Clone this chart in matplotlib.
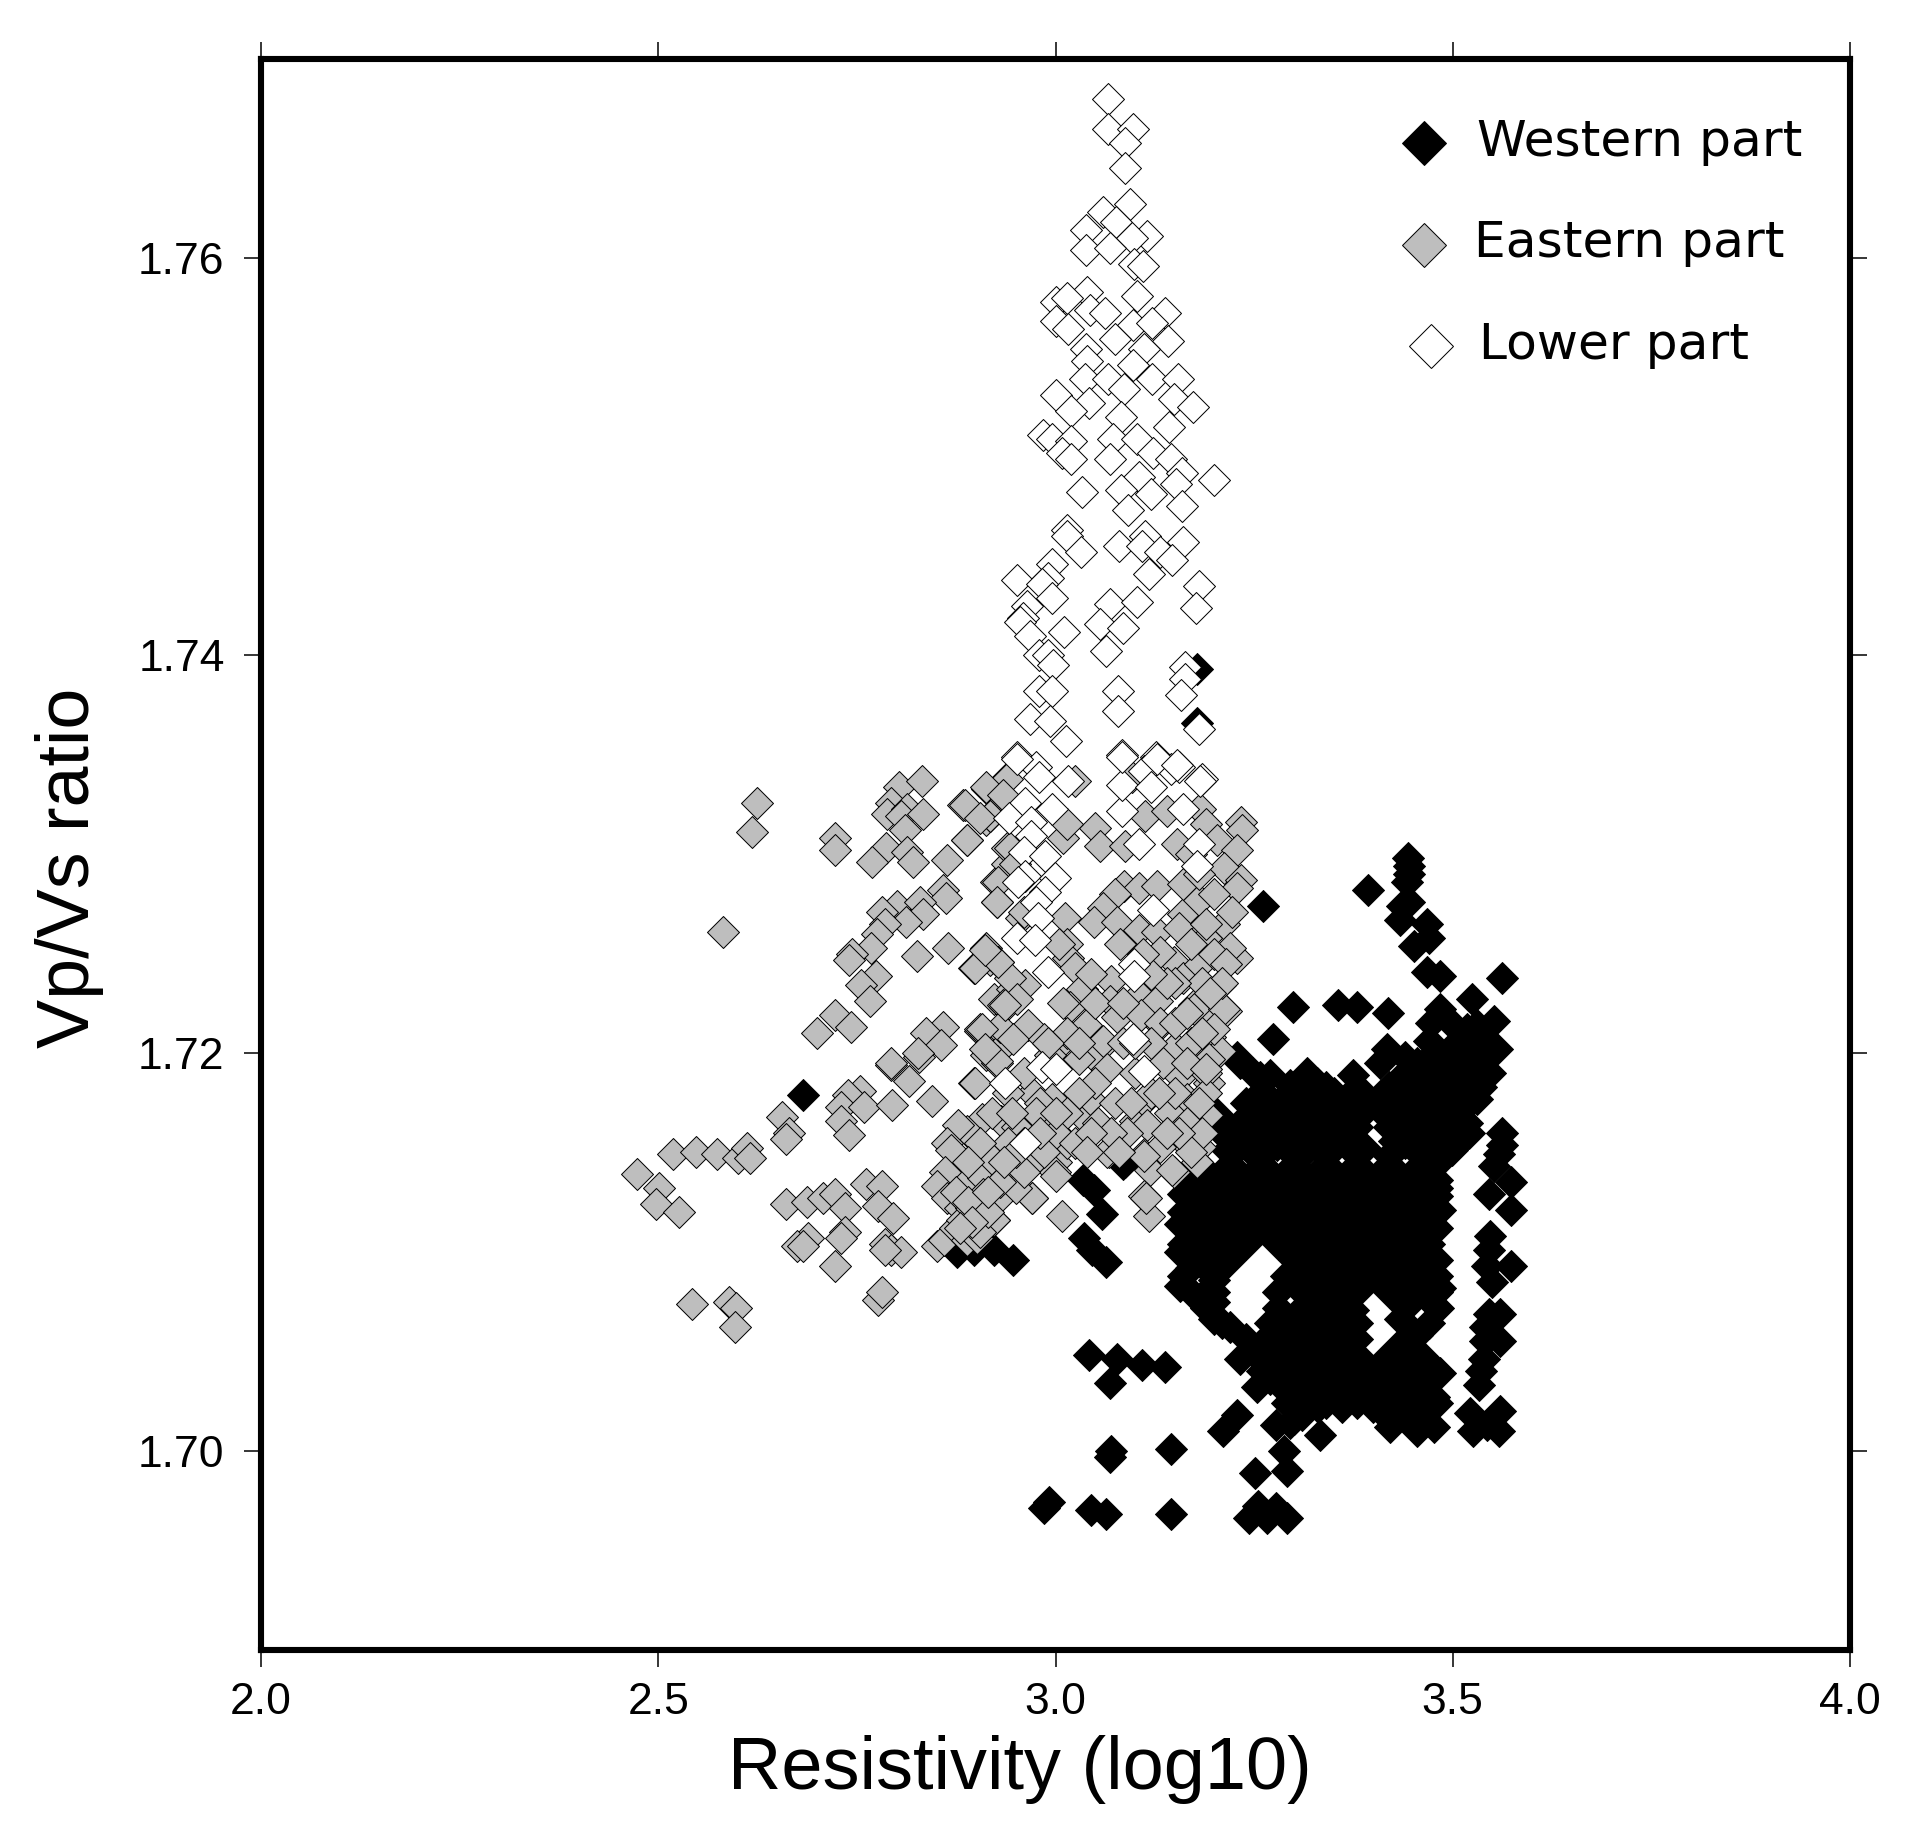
"""
Vp/Vs ratio against log10 resistivity for the three parts of the model.
"""
import matplotlib
matplotlib.use("Agg")
import matplotlib.pyplot as plt
import numpy as np

# (resistivity log10, Vp/Vs)
western_part = [
    (3.178, 1.7393), (3.178, 1.7366), (2.682, 1.7179),
    (3.444, 1.7298), (3.445, 1.7294), (3.445, 1.7290), (3.442, 1.7286), (3.436, 1.7274),
    (3.445, 1.7276), (3.434, 1.7267), (3.468, 1.7265), (3.470, 1.7258), (3.451, 1.7254),
    (3.468, 1.7241), (3.484, 1.7239), (3.393, 1.7282), (3.261, 1.7274), (3.562, 1.7238),
    (3.299, 1.7223), (3.356, 1.7224), (3.379, 1.7223), (3.418, 1.7220), (3.274, 1.7207),
    (3.524, 1.7227), (3.484, 1.7222), (3.552, 1.7216), (3.472, 1.7215), (3.556, 1.7202),
    (3.518, 1.7212), (3.497, 1.7202), (3.535, 1.7195), (3.547, 1.7190), (3.535, 1.7183),
    (3.510, 1.7193), (3.476, 1.7200), (3.455, 1.7195), (3.417, 1.7202), (3.409, 1.7195),
    (3.375, 1.7189), (3.316, 1.7190), (3.295, 1.7184), (3.329, 1.7185), (3.232, 1.7195),
    (3.258, 1.7188), (3.239, 1.7166), (3.274, 1.7173), (3.312, 1.7178), (3.350, 1.7180),
    (3.388, 1.7175), (3.426, 1.7171), (3.459, 1.7173), (3.493, 1.7190), (3.518, 1.7165),
    (3.499, 1.7151), (3.216, 1.7151), (3.245, 1.7151), (3.279, 1.7154), (3.316, 1.7151),
    (3.350, 1.7158), (3.384, 1.7151), (3.426, 1.7156), (3.459, 1.7158), (3.476, 1.7146),
    (3.161, 1.7129), (3.195, 1.7129), (3.228, 1.7132), (3.266, 1.7134), (3.304, 1.7136),
    (3.342, 1.7134), (3.379, 1.7136), (3.417, 1.7136), (3.455, 1.7136), (3.480, 1.7132),
    (3.157, 1.7114), (3.190, 1.7114), (3.224, 1.7114), (3.262, 1.7117), (3.300, 1.7119),
    (3.337, 1.7119), (3.375, 1.7117), (3.413, 1.7117), (3.451, 1.7122), (3.484, 1.7121),
    (3.157, 1.7100), (3.186, 1.7107), (3.157, 1.7083), (3.182, 1.7077), (3.199, 1.7086),
    (3.199, 1.7066), (3.241, 1.7110), (3.300, 1.7105), (3.321, 1.7097), (3.358, 1.7097),
    (3.400, 1.7097), (3.447, 1.7102), (3.463, 1.7097), (3.304, 1.7083), (3.329, 1.7085),
    (3.375, 1.7090), (3.426, 1.7085), (3.455, 1.7083), (3.484, 1.7082), (3.482, 1.7072),
    (3.283, 1.7066), (3.308, 1.7071), (3.333, 1.7068), (3.375, 1.7071), (3.434, 1.7066),
    (3.455, 1.7058), (3.232, 1.7046), (3.258, 1.7053), (3.291, 1.7056), (3.325, 1.7051),
    (3.367, 1.7058), (3.447, 1.7049), (3.468, 1.7036), (3.484, 1.7039), (3.426, 1.7041),
    (3.400, 1.7032), (3.434, 1.7029), (3.459, 1.7024), (3.476, 1.7027), (3.417, 1.7018),
    (3.455, 1.7010), (3.476, 1.7012), (3.400, 1.7022), (3.421, 1.7012), (3.447, 1.7017),
    (3.253, 1.7032), (3.283, 1.7036), (3.312, 1.7041), (3.346, 1.7034), (3.354, 1.7029),
    (3.291, 1.7024), (3.316, 1.7029), (3.211, 1.7010), (3.228, 1.7018), (3.277, 1.7013),
    (3.295, 1.7014), (3.287, 1.7000), (3.291, 1.6990), (3.251, 1.6989), (3.333, 1.7008),
    (3.562, 1.7160), (3.562, 1.7154), (3.558, 1.7149), (3.552, 1.7143), (3.573, 1.7135),
    (3.545, 1.7129), (3.573, 1.7121), (3.547, 1.7108), (3.545, 1.7101), (3.573, 1.7093),
    (3.543, 1.7093), (3.550, 1.7085), (3.560, 1.7069), (3.545, 1.7069), (3.541, 1.7062),
    (3.560, 1.7055), (3.541, 1.7055), (3.539, 1.7046), (3.535, 1.7040), (3.533, 1.7033),
    (3.522, 1.7019), (3.560, 1.7020), (3.526, 1.7010), (3.558, 1.7010), (3.543, 1.7013),
    (2.876, 1.7100), (2.897, 1.7101), (2.923, 1.7101), (2.946, 1.7096), (3.034, 1.7136),
    (3.048, 1.7131), (3.059, 1.7119), (3.036, 1.7107), (3.046, 1.7101), (3.063, 1.7095),
    (3.087, 1.7145), (3.042, 1.7048), (3.078, 1.7046), (3.109, 1.7043), (3.138, 1.7042),
    (3.068, 1.7034), (3.070, 1.7000), (3.069, 1.6997), (3.146, 1.7001), (2.985, 1.6971),
    (2.992, 1.6974), (3.045, 1.6970), (3.064, 1.6968), (3.145, 1.6968), (3.243, 1.6966),
    (3.255, 1.6972), (3.266, 1.6966), (3.277, 1.6971), (3.291, 1.6966), (3.085, 1.7144),
    (3.199, 1.7171), (3.207, 1.7161), (3.228, 1.7198), (3.249, 1.7190), (3.237, 1.7167),
    # dense middle of the cloud
    (3.30, 1.7183), (3.34, 1.7183), (3.38, 1.7183), (3.42, 1.7183), (3.46, 1.7183),
    (3.50, 1.7183), (3.53, 1.7183), (3.24, 1.7175), (3.28, 1.7175), (3.32, 1.7175),
    (3.36, 1.7175), (3.40, 1.7175), (3.44, 1.7175), (3.48, 1.7175), (3.52, 1.7175),
    (3.26, 1.7167), (3.30, 1.7167), (3.34, 1.7167), (3.38, 1.7167), (3.42, 1.7167),
    (3.46, 1.7167), (3.50, 1.7167), (3.24, 1.7160), (3.28, 1.7160), (3.32, 1.7160),
    (3.36, 1.7160), (3.44, 1.7160), (3.48, 1.7160), (3.52, 1.7160), (3.23, 1.7152),
    (3.27, 1.7152), (3.31, 1.7152), (3.35, 1.7152), (3.39, 1.7152), (3.43, 1.7152),
    (3.47, 1.7152), (3.50, 1.7152), (3.18, 1.7144), (3.22, 1.7144), (3.26, 1.7144),
    (3.30, 1.7144), (3.34, 1.7144), (3.38, 1.7144), (3.42, 1.7144), (3.46, 1.7144),
    (3.48, 1.7144), (3.16, 1.7136), (3.20, 1.7136), (3.24, 1.7136), (3.28, 1.7136),
    (3.32, 1.7136), (3.36, 1.7136), (3.40, 1.7136), (3.44, 1.7136), (3.48, 1.7136),
    (3.18, 1.7128), (3.22, 1.7128), (3.26, 1.7128), (3.30, 1.7128), (3.34, 1.7128),
    (3.38, 1.7128), (3.42, 1.7128), (3.46, 1.7128), (3.48, 1.7128), (3.16, 1.7120),
    (3.20, 1.7120), (3.24, 1.7120), (3.28, 1.7120), (3.32, 1.7120), (3.36, 1.7120),
    (3.40, 1.7120), (3.44, 1.7120), (3.48, 1.7120), (3.18, 1.7112), (3.22, 1.7112),
    (3.26, 1.7112), (3.30, 1.7112), (3.34, 1.7112), (3.38, 1.7112), (3.42, 1.7112),
    (3.46, 1.7112), (3.48, 1.7112), (3.16, 1.7104), (3.20, 1.7104), (3.24, 1.7104),
    (3.28, 1.7104), (3.32, 1.7104), (3.36, 1.7104), (3.40, 1.7104), (3.44, 1.7104),
    (3.47, 1.7104), (3.18, 1.7096), (3.22, 1.7096), (3.30, 1.7096), (3.34, 1.7096),
    (3.38, 1.7096), (3.42, 1.7096), (3.46, 1.7096), (3.48, 1.7096), (3.16, 1.7088),
    (3.20, 1.7088), (3.29, 1.7088), (3.32, 1.7088), (3.36, 1.7088), (3.40, 1.7088),
    (3.44, 1.7088), (3.48, 1.7088), (3.17, 1.7080), (3.20, 1.7080), (3.28, 1.7080),
    (3.31, 1.7080), (3.34, 1.7080), (3.38, 1.7080), (3.42, 1.7080), (3.46, 1.7080),
    (3.48, 1.7080), (3.19, 1.7072), (3.28, 1.7072), (3.32, 1.7072), (3.36, 1.7072),
    (3.44, 1.7072), (3.48, 1.7072), (3.21, 1.7064), (3.27, 1.7064), (3.30, 1.7064),
    (3.34, 1.7064), (3.38, 1.7064), (3.44, 1.7064), (3.47, 1.7064), (3.24, 1.7056),
    (3.28, 1.7056), (3.32, 1.7056), (3.36, 1.7056), (3.38, 1.7056), (3.44, 1.7056),
    (3.26, 1.7048), (3.30, 1.7048), (3.34, 1.7048), (3.38, 1.7048), (3.42, 1.7048),
    (3.46, 1.7048), (3.26, 1.7040), (3.28, 1.7040), (3.32, 1.7040), (3.36, 1.7040),
    (3.40, 1.7040), (3.44, 1.7040), (3.48, 1.7040), (3.30, 1.7032), (3.34, 1.7032),
    (3.38, 1.7032), (3.42, 1.7032), (3.46, 1.7032), (3.30, 1.7024), (3.34, 1.7024),
    (3.40, 1.7024), (3.44, 1.7024), (3.48, 1.7024), (3.30, 1.7016), (3.42, 1.7016),
    (3.46, 1.7016),
    (3.44, 1.7190), (3.48, 1.7190), (3.52, 1.7190), (3.44, 1.7198), (3.50, 1.7198),
    (3.53, 1.7198), (3.47, 1.7206), (3.51, 1.7206), (3.54, 1.7206), (3.50, 1.7214),
    (3.53, 1.7214), (3.46, 1.7177), (3.50, 1.7177), (3.53, 1.7177), (3.44, 1.7155),
    (3.48, 1.7155), (3.50, 1.7155), (3.26, 1.7148), (3.30, 1.7148), (3.34, 1.7148),
    (3.38, 1.7148), (3.42, 1.7148), (3.46, 1.7148), (3.30, 1.7163), (3.34, 1.7163),
    (3.38, 1.7163), (3.42, 1.7163), (3.46, 1.7163), (3.22, 1.7163), (3.26, 1.7156),
    (3.30, 1.7156), (3.34, 1.7156), (3.38, 1.7156), (3.46, 1.7156), (3.50, 1.7156),
    (3.27, 1.7189), (3.26, 1.7181), (3.17, 1.7092), (3.19, 1.7100), (3.21, 1.7094),
    (3.20, 1.7075), (3.22, 1.7062), (3.25, 1.7049), (3.27, 1.7058), (3.27, 1.7036),
    (3.29, 1.7030), (3.31, 1.7018), (3.33, 1.7022), (3.36, 1.7022), (3.38, 1.7024),
    (3.39, 1.7040),
]

eastern_part = [
    (2.624, 1.7326), (2.618, 1.7311), (2.722, 1.7308), (2.722, 1.7302), (2.582, 1.7261),
    (2.803, 1.7334), (2.832, 1.7337), (2.793, 1.7326), (2.788, 1.7320), (2.813, 1.7323),
    (2.805, 1.7319), (2.833, 1.7320), (2.884, 1.7325), (2.810, 1.7312), (2.787, 1.7303),
    (2.769, 1.7296), (2.813, 1.7301), (2.821, 1.7296), (2.863, 1.7297), (2.888, 1.7307),
    (2.914, 1.7333), (2.938, 1.7338), (2.933, 1.7329), (2.912, 1.7317), (2.918, 1.7319),
    (2.858, 1.7282), (2.862, 1.7278), (2.800, 1.7274), (2.781, 1.7271), (2.829, 1.7276),
    (2.833, 1.7270), (2.812, 1.7266), (2.786, 1.7265), (2.775, 1.7260), (2.768, 1.7253),
    (2.744, 1.7250), (2.740, 1.7247), (2.826, 1.7249), (2.865, 1.7253), (2.912, 1.7253),
    (2.897, 1.7243), (2.918, 1.7247), (2.928, 1.7246), (2.774, 1.7239), (2.755, 1.7234),
    (2.767, 1.7226), (2.723, 1.7219), (2.742, 1.7213), (2.700, 1.7210), (2.859, 1.7213),
    (2.837, 1.7210), (2.856, 1.7204), (2.828, 1.7198), (2.793, 1.7194), (2.922, 1.7227),
    (2.936, 1.7223), (2.945, 1.7232), (2.905, 1.7211), (2.910, 1.7210), (2.931, 1.7211),
    (2.933, 1.7203), (2.912, 1.7199), (2.926, 1.7195), (2.925, 1.7286), (2.926, 1.7276),
    (2.939, 1.7295), (2.939, 1.7303), (2.956, 1.7268),
    (2.939, 1.7338), (2.913, 1.7334), (2.934, 1.7330), (2.886, 1.7325), (2.918, 1.7319),
    (2.905, 1.7318), (2.888, 1.7307), (3.025, 1.7337), (3.050, 1.7313), (3.056, 1.7304),
    (3.088, 1.7304), (3.113, 1.7319), (3.096, 1.7339), (3.140, 1.7322), (3.153, 1.7305),
    (3.182, 1.7323), (3.189, 1.7315), (3.233, 1.7316), (3.235, 1.7312), (3.203, 1.7307),
    (3.228, 1.7302), (3.212, 1.7293), (3.233, 1.7287), (3.229, 1.7283), (3.010, 1.7308),
    (3.014, 1.7315), (2.943, 1.7303), (2.949, 1.7295), (2.928, 1.7286), (2.926, 1.7276),
    (2.960, 1.7271), (3.012, 1.7268), (3.014, 1.7255), (3.016, 1.7248), (3.025, 1.7243),
    (3.004, 1.7255), (3.086, 1.7284), (3.105, 1.7283), (3.128, 1.7284), (3.075, 1.7280),
    (3.060, 1.7273), (3.048, 1.7266), (3.077, 1.7266), (3.105, 1.7262), (3.081, 1.7255),
    (3.128, 1.7261), (3.161, 1.7270), (3.180, 1.7277), (3.155, 1.7263), (3.212, 1.7265),
    (3.222, 1.7271), (3.149, 1.7246), (3.228, 1.7248), (3.220, 1.7253), (3.174, 1.7256),
    (3.189, 1.7258), (3.132, 1.7251), (3.161, 1.7238), (3.207, 1.7234), (3.182, 1.7245),
    (3.214, 1.7221), (3.174, 1.7224), (3.197, 1.7219), (3.132, 1.7214), (3.105, 1.7229),
    (3.128, 1.7226), (3.070, 1.7236), (3.033, 1.7232), (3.018, 1.7223), (3.069, 1.7226),
    (3.077, 1.7218), (3.107, 1.7219), (3.039, 1.7213), (3.060, 1.7204), (3.048, 1.7198),
    (3.010, 1.7206), (2.993, 1.7199), (2.962, 1.7234), (2.943, 1.7238), (2.934, 1.7224),
    (2.951, 1.7227), (2.930, 1.7213), (2.966, 1.7214), (2.905, 1.7212), (2.926, 1.7196),
    (2.899, 1.7243), (2.928, 1.7246), (2.911, 1.7252), (3.174, 1.7203), (3.151, 1.7203),
    (3.195, 1.7208), (3.207, 1.7201),
    (2.936, 1.7224), (2.907, 1.7212), (2.911, 1.7202), (2.897, 1.7185), (2.947, 1.7207),
    (2.970, 1.7180), (2.995, 1.7177), (2.932, 1.7166), (2.907, 1.7167), (2.951, 1.7163),
    (2.989, 1.7162), (2.922, 1.7147), (2.905, 1.7138), (2.888, 1.7161), (2.966, 1.7145),
    (3.001, 1.7145), (3.014, 1.7155), (3.037, 1.7167), (3.044, 1.7177), (3.029, 1.7197),
    (3.060, 1.7206), (3.039, 1.7214), (3.014, 1.7210), (3.065, 1.7192), (3.100, 1.7166),
    (3.111, 1.7176), (3.157, 1.7188), (3.165, 1.7177), (3.161, 1.7156), (3.115, 1.7164),
    (3.111, 1.7149), (3.067, 1.7150), (3.054, 1.7165), (3.132, 1.7215), (3.174, 1.7222),
    (3.212, 1.7222), (3.199, 1.7212), (3.193, 1.7197), (3.193, 1.7185), (3.191, 1.7169),
    (3.182, 1.7153), (3.178, 1.7145), (3.144, 1.7170), (3.132, 1.7153), (3.149, 1.7140),
    (3.119, 1.7141), (3.111, 1.7128), (3.118, 1.7118), (2.970, 1.7127), (3.008, 1.7118),
    (2.924, 1.7126), (2.922, 1.7116), (2.899, 1.7125), (2.892, 1.7108), (2.999, 1.7140),
    (2.945, 1.7141), (2.888, 1.7136), (2.905, 1.7119), (2.981, 1.7175),
    (2.793, 1.7195), (2.827, 1.7200), (2.754, 1.7181), (2.739, 1.7179), (2.730, 1.7173),
    (2.730, 1.7166), (2.740, 1.7159), (2.759, 1.7173), (2.816, 1.7186), (2.794, 1.7174),
    (2.845, 1.7176), (2.656, 1.7168), (2.665, 1.7160), (2.661, 1.7157), (2.518, 1.7149),
    (2.547, 1.7150), (2.574, 1.7149), (2.600, 1.7147), (2.612, 1.7152), (2.616, 1.7147),
    (2.473, 1.7139), (2.501, 1.7132), (2.497, 1.7124), (2.526, 1.7120), (2.661, 1.7124),
    (2.687, 1.7125), (2.707, 1.7127), (2.723, 1.7129), (2.735, 1.7122), (2.762, 1.7134),
    (2.782, 1.7133), (2.776, 1.7123), (2.795, 1.7117), (2.735, 1.7110), (2.730, 1.7107),
    (2.689, 1.7107), (2.675, 1.7103), (2.682, 1.7103), (2.722, 1.7093), (2.786, 1.7104),
    (2.793, 1.7101), (2.805, 1.7100), (2.786, 1.7101), (2.776, 1.7076), (2.782, 1.7080),
    (2.542, 1.7074), (2.589, 1.7075), (2.598, 1.7072), (2.596, 1.7062), (2.877, 1.7164),
    (2.863, 1.7155), (2.868, 1.7151), (2.861, 1.7140), (2.851, 1.7133), (2.863, 1.7127),
    (2.880, 1.7122), (2.851, 1.7103), (2.860, 1.7106), (2.873, 1.7112), (2.882, 1.7116),
    (2.889, 1.7106), (2.901, 1.7107), (2.923, 1.7116), (2.926, 1.7126), (2.909, 1.7137),
    (2.921, 1.7146), (2.899, 1.7185), (2.971, 1.7127), (3.114, 1.7127), (3.065, 1.7150),
    (2.967, 1.7143), (3.000, 1.7138), (2.938, 1.7138), (3.111, 1.7148), (3.147, 1.7141),
    (2.894, 1.7122), (2.909, 1.7129),
    # dense part of the grey cloud
    (3.170, 1.7205), (3.185, 1.7235), (3.190, 1.7190), (3.190, 1.7180), (3.180, 1.7175),
    (3.165, 1.7165), (3.150, 1.7180), (3.135, 1.7195), (3.120, 1.7205), (3.150, 1.7215),
    (3.165, 1.7195), (3.185, 1.7210), (3.190, 1.7192), (3.185, 1.7160), (3.170, 1.7150),
    (3.155, 1.7160), (3.140, 1.7160), (3.120, 1.7180), (3.100, 1.7190), (3.085, 1.7205),
    (3.075, 1.7175), (3.090, 1.7160), (3.070, 1.7160), (3.050, 1.7185), (3.030, 1.7180),
    (3.015, 1.7170), (3.000, 1.7160), (2.985, 1.7150), (2.960, 1.7155), (2.940, 1.7155),
    (2.975, 1.7170), (2.960, 1.7190), (2.940, 1.7180), (2.920, 1.7170), (2.905, 1.7155),
    (2.890, 1.7145), (2.875, 1.7130), (2.890, 1.7125), (2.905, 1.7110), (2.950, 1.7132),
    (2.930, 1.7135), (2.960, 1.7140), (2.915, 1.7120), (2.895, 1.7115), (2.880, 1.7112),
    (3.160, 1.7285), (3.180, 1.7290), (3.200, 1.7280), (3.190, 1.7265), (3.170, 1.7255),
    (3.150, 1.7235), (3.165, 1.7220), (3.200, 1.7250), (3.215, 1.7245), (3.210, 1.7235),
    (3.195, 1.7230), (3.170, 1.7300), (3.140, 1.7235), (3.120, 1.7240), (3.110, 1.7250),
    (3.045, 1.7240), (3.050, 1.7225), (3.010, 1.7225), (2.985, 1.7207), (2.990, 1.7205),
    (3.030, 1.7205), (3.025, 1.7155), (3.045, 1.7160), (3.080, 1.7150), (3.040, 1.7150),
    (2.980, 1.7160), (2.950, 1.7150), (2.935, 1.7145), (2.915, 1.7130), (2.945, 1.7170),
    (3.000, 1.7170), (3.095, 1.7175), (3.130, 1.7180), (3.100, 1.7205), (3.085, 1.7225),
]

lower_part = [
    (3.066, 1.7680), (3.066, 1.7665), (3.097, 1.7665), (3.087, 1.7658), (3.087, 1.7645),
    (3.094, 1.7627), (3.060, 1.7623), (3.076, 1.7618), (3.115, 1.7611), (3.038, 1.7614),
    (3.096, 1.7610), (3.039, 1.7604), (3.068, 1.7605), (3.099, 1.7597), (3.110, 1.7596),
    (3.102, 1.7581), (3.040, 1.7583), (3.001, 1.7578), (3.015, 1.7580), (3.138, 1.7572),
    (3.044, 1.7574), (3.062, 1.7572), (3.001, 1.7568), (3.016, 1.7564), (3.098, 1.7566),
    (3.121, 1.7567), (3.141, 1.7558), (3.075, 1.7559), (3.111, 1.7554), (3.039, 1.7554),
    (3.040, 1.7548), (3.097, 1.7546), (3.037, 1.7539), (3.066, 1.7539), (3.121, 1.7539),
    (3.154, 1.7539), (3.001, 1.7531), (3.042, 1.7527), (3.086, 1.7534), (3.019, 1.7523),
    (3.149, 1.7529), (3.173, 1.7525), (3.082, 1.7520), (3.143, 1.7515), (2.984, 1.7511),
    (2.996, 1.7509), (3.020, 1.7508), (3.008, 1.7502), (3.020, 1.7499), (3.072, 1.7509),
    (3.102, 1.7509), (3.123, 1.7502), (3.069, 1.7499), (3.145, 1.7499), (3.159, 1.7492),
    (3.200, 1.7488), (3.105, 1.7490), (3.033, 1.7482), (3.082, 1.7483), (3.152, 1.7486),
    (3.120, 1.7481), (3.091, 1.7473), (3.159, 1.7475), (3.014, 1.7463), (3.014, 1.7460),
    (3.032, 1.7452), (3.080, 1.7455), (3.113, 1.7460), (3.109, 1.7455), (3.160, 1.7457),
    (3.132, 1.7452), (3.147, 1.7448), (2.996, 1.7446), (3.118, 1.7441), (2.952, 1.7438),
    (2.990, 1.7439), (2.983, 1.7436), (2.996, 1.7429), (3.180, 1.7435), (3.177, 1.7424),
    (3.068, 1.7426), (3.103, 1.7427), (2.964, 1.7425), (2.959, 1.7419), (3.056, 1.7416),
    (3.085, 1.7414), (2.955, 1.7417), (2.968, 1.7410), (3.011, 1.7412), (3.063, 1.7402),
    (2.979, 1.7400), (2.990, 1.7400), (2.997, 1.7395), (3.163, 1.7394), (3.163, 1.7388),
    (2.979, 1.7382), (2.996, 1.7382), (3.079, 1.7382), (3.158, 1.7380), (2.968, 1.7368),
    (2.993, 1.7367), (3.079, 1.7372), (3.181, 1.7363), (3.013, 1.7357), (2.951, 1.7349),
    (3.084, 1.7350), (3.127, 1.7349), (2.975, 1.7344), (3.156, 1.7344), (3.145, 1.7343),
    (3.112, 1.7342), (3.185, 1.7338),
    (2.951, 1.7348), (2.979, 1.7339), (3.016, 1.7337), (2.962, 1.7326), (2.995, 1.7323),
    (2.941, 1.7318), (2.969, 1.7316), (2.969, 1.7309), (2.960, 1.7301), (2.987, 1.7299),
    (2.962, 1.7289), (2.999, 1.7288), (2.953, 1.7286), (2.987, 1.7281), (2.975, 1.7276),
    (2.978, 1.7268), (2.951, 1.7258), (2.974, 1.7257), (2.991, 1.7241), (3.084, 1.7322),
    (3.084, 1.7335), (3.084, 1.7349), (3.120, 1.7334), (3.128, 1.7348), (3.153, 1.7345),
    (3.182, 1.7337), (3.161, 1.7323), (3.105, 1.7305), (3.181, 1.7305), (3.178, 1.7294),
    (3.123, 1.7272), (3.099, 1.7245), (3.099, 1.7239), (3.098, 1.7207), (2.983, 1.7193),
    (3.111, 1.7191), (3.000, 1.7192), (2.936, 1.7185), (2.962, 1.7155),
]

x_ticks = [2.0, 2.5, 3.0, 3.5, 4.0]
x_tick_labels = ["2.0", "2.5", "3.0", "3.5", "4.0"]
y_ticks = [1.70, 1.72, 1.74, 1.76]
y_tick_labels = ["1.70", "1.72", "1.74", "1.76"]

_WIDTH, _HEIGHT = 1917, 1837
_DPI = 100
_MARKER_S = 265
_EDGE = 0.72
_GREY = "#bebebe"


def draw_part(ax, points, color, zorder):
    arr = np.array(points)
    ax.scatter(arr[:, 0], arr[:, 1], s=_MARKER_S, marker="D", c=color,
               edgecolors="black", linewidths=_EDGE, zorder=zorder)


plt.rcParams["font.family"] = ["Liberation Sans", "DejaVu Sans"]

fig = plt.figure(figsize=(_WIDTH / _DPI, _HEIGHT / _DPI), dpi=_DPI)
ax = fig.add_axes([261 / _WIDTH, 1 - 1649.5 / _HEIGHT, 1589 / _WIDTH, 1590.5 / _HEIGHT])

draw_part(ax, western_part, "black", 2)
draw_part(ax, eastern_part, _GREY, 3)
draw_part(ax, lower_part, "white", 4)

ax.set_xlim(2.0, 4.0)
ax.set_ylim(1.69, 1.77)
ax.set_xticks(x_ticks, x_tick_labels)
ax.set_yticks(y_ticks, y_tick_labels)
ax.tick_params(direction="out", length=12.5, width=1.1, labelsize=32, pad=11,
               top=True, right=True)
ax.tick_params(axis="y", pad=13.7)
for spine in ax.spines.values():
    spine.set_linewidth(4.4)
    spine.set_zorder(6)

# hand-placed legend, as in the original
legend_items = [
    ("Western part", "black", 0.7317, 0.9474, 0.7653, 0.9393),
    ("Eastern part", _GREY, 0.7317, 0.8833, 0.7634, 0.8755),
    ("Lower part", "white", 0.7360, 0.8195, 0.7665, 0.8113),
]
for label, color, mx, my, tx, ty in legend_items:
    ax.plot([mx], [my], marker="D", ms=22.4, mfc=color, mec="black", mew=_EDGE,
            ls="none", transform=ax.transAxes, zorder=5)
    ax.text(tx, ty, label, transform=ax.transAxes, fontsize=36.2,
            family="DejaVu Sans", ha="left", va="baseline", zorder=5)

fig.text(1020 / _WIDTH, 1 - 1769 / _HEIGHT, "Resistivity (log10)", fontsize=53.2,
         ha="center", va="center")
fig.text(70 / _WIDTH, 1 - 868 / _HEIGHT, "Vp/Vs ratio", fontsize=53, rotation=90,
         ha="center", va="center")

fig.savefig("out.png", dpi=_DPI)
